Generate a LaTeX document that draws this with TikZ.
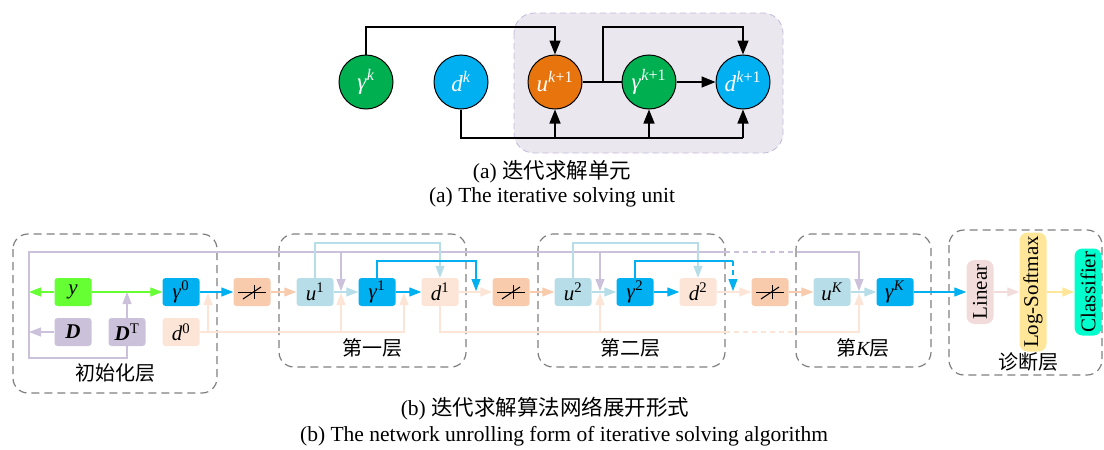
\documentclass[tikz,border=0pt]{standalone}
\usepackage{fontspec}
\setmainfont{Liberation Serif}
\newfontfamily\cjk{Noto Sans CJK SC}
\usetikzlibrary{arrows.meta, calc}

\definecolor{cgreen}{HTML}{00B050}
\definecolor{cblue}{HTML}{00B0F0}
\definecolor{corange}{HTML}{E8740E}
\definecolor{bgfill}{HTML}{EAE7EF}
\definecolor{bgline}{HTML}{C3B8DA}
\definecolor{ygreen}{HTML}{66FF33}
\definecolor{dpurp}{HTML}{CCC1DA}
\definecolor{dpeach}{HTML}{FCE4D6}
\definecolor{swor}{HTML}{F8CBAD}
\definecolor{ublue}{HTML}{B7DEE8}
\definecolor{linpink}{HTML}{F2DCDB}
\definecolor{lsmyel}{HTML}{FFE699}
\definecolor{clsgrn}{HTML}{00FFCC}
\definecolor{boxgray}{HTML}{7F7F7F}

\begin{document}
\begin{tikzpicture}[x=1pt, y=-1pt,
  unit/.style={circle, draw=black, line width=1pt, minimum size=54pt, inner sep=0pt, text=white, font=\fontsize{23}{23}\selectfont},
  blk/.style={rounded corners=3pt, minimum width=37pt, minimum height=28pt, inner sep=0pt, font=\fontsize{21}{21}\selectfont},
  vblk/.style={rounded corners=8pt, minimum height=27pt, inner sep=0pt, rotate=90, font=\fontsize{21}{21}\selectfont},
  aarr/.style={-{Triangle[length=14pt,width=11pt]}, line width=1.5pt},
  arr/.style={-{Triangle[length=12pt,width=9pt]}, line width=1.2pt},
  dsh/.style={dash pattern=on 5pt off 4pt},
  stagebox/.style={draw=boxgray, dash pattern=on 8pt off 5pt, rounded corners=15pt, line width=1.2pt},
  captxt/.style={font=\fontsize{21.5}{21.5}\selectfont, inner sep=0pt},
  lab/.style={font=\fontsize{20}{20}\selectfont\cjk, inner sep=0pt}]
\useasboundingbox (0,0) rectangle (1104,450);

% Iterative solving unit
\draw[draw=bgline, fill=bgfill, dash pattern=on 6pt off 4pt, line width=0.8pt, rounded corners=20pt] (514,13) rectangle (783,153);
\node[unit, fill=cgreen] (gk) at (366,82) {\textit{γ}\textsuperscript{\textit{k}}};
\node[unit, fill=cblue] (dk) at (461,82) {\textit{d}\textsuperscript{\textit{k}}};
\node[unit, fill=corange] (uk1) at (555,82) {\textit{u}\textsuperscript{\textit{k}+1}};
\node[unit, fill=cgreen] (gk1) at (649,82) {\textit{γ}\textsuperscript{\textit{k}+1}};
\node[unit, fill=cblue] (dk1) at (743,82) {\textit{d}\textsuperscript{\textit{k}+1}};
\coordinate (atop) at (0,27);
\coordinate (abot) at (0,138);
\coordinate (abr) at (603,82);
\draw[aarr] (gk.north) -- (gk.north |- atop) -| (uk1.north);
\draw[line width=1.5pt] (uk1.east) -- (gk1.west);
\draw[aarr] (gk1) -- (dk1);
\draw[aarr] (abr) -- (abr |- atop) -| (dk1.north);
\draw[line width=1.5pt] (dk.south) -- (dk.south |- abot) -- (dk1.south |- abot);
\foreach \n in {uk1, gk1, dk1}
   \draw[aarr] (\n.south |- abot) -- (\n.south);

\node[captxt] (capa1) at (552,172) {(a) {\cjk 迭代求解单元}};
\node[captxt] (capa2) at (552,197) {(a) The iterative solving unit};

% Stage frames
\foreach \xa/\ya/\xb/\yb in {13/234/217/393, 279/234/466/367, 538/234/725/367, 796/234/931/367, 949/230/1102/375}
   \draw[stagebox] (\xa,\ya) rectangle (\xb,\yb);
\node[lab] (linit) at (115,373) {初始化层};
\node[lab] (lone) at (372,348) {第一层};
\node[lab] (ltwo) at (630,348) {第二层};
\node[lab] (lkk) at (863,348) {第{\rmfamily\itshape K}层};
\node[lab] (ldiag) at (1028,362) {诊断层};

% Initialization layer
\node[blk, fill=ygreen] (ny) at (73,292) {\textit{y}};
\node[blk, fill=dpurp] (nD) at (73,332) {\textbf{\textit{D}}};
\node[blk, fill=dpurp] (nDT) at (127,332) {\textbf{\textit{D}}\textsuperscript{T}};
\node[blk, fill=cblue] (g0) at (181,292) {\textit{γ}\textsuperscript{0}};
\node[blk, fill=dpeach] (d0) at (181,332) {\textit{d}\textsuperscript{0}};

% Unrolled layers
\foreach \i/\x in {1/315, 2/573} {
   \node[blk, fill=ublue] (u\i) at (\x,292) {\textit{u}\textsuperscript{\i}};
   \node[blk, fill=cblue] (g\i) at (\x+62,292) {\textit{γ}\textsuperscript{\i}};
   \node[blk, fill=dpeach] (d\i) at (\x+125,292) {\textit{d}\textsuperscript{\i}};
}
\node[blk, fill=ublue] (uK) at (832,292) {\textit{u}\textsuperscript{\textit{K}}};
\node[blk, fill=cblue] (gK) at (895,292) {\textit{γ}\textsuperscript{\textit{K}}};

% Switches
\foreach \s/\x in {sw1/252, sw2/511, sw3/770} {
   \node[blk, fill=swor] (\s) at (\x,292) {};
   \draw[line width=1pt] ([xshift=-14pt]\s.center) -- ([xshift=14pt]\s.center);
   \draw[line width=1pt] ([shift={(-9pt,-7pt)}]\s.center) -- ([shift={(9pt,5pt)}]\s.center);
   \draw[line width=1pt] ([shift={(2pt,-7pt)}]\s.center) -- ([shift={(2pt,7pt)}]\s.center);
}

% Diagnosis layer
\node[vblk, fill=linpink, minimum width=64pt] (lin) at (980,292) {Linear};
\node[vblk, fill=lsmyel, minimum width=119pt] (lsm) at (1033,292) {Log-Softmax};
\node[vblk, fill=clsgrn, minimum width=87pt] (cls) at (1088,292) {Classifier};

% Junctions
\coordinate (lx) at (29,292);
\coordinate (pt) at (0,252);
\coordinate (pb) at (0,358);
\coordinate (ub) at (0,243);
\coordinate (gb) at (0,261);
\coordinate (j0) at (208,292);
\coordinate (j1) at (341,292);
\coordinate (e1) at (404,292);
\coordinate (m1) at (476,292);
\coordinate (j2) at (600,292);
\coordinate (m2) at (733,292);
\coordinate (jK) at (859,292);
\coordinate (pd1) at (725,0);
\coordinate (pd2) at (797,0);

% Main row
\draw[arr, ygreen] (ny) -- (g0);
\draw[arr, ygreen] (ny.west) -- (ny.west -| lx);
\draw[arr, dpurp] (nD.west) -- (nD.west -| lx);
\draw[arr, dpurp] (nDT.north) -- (nDT.north |- ny);
\draw[arr, cblue] (g0) -- (sw1);
\draw[arr, swor] (sw1) -- (u1);
\draw[arr, ublue] (u1) -- (g1);
\draw[arr, cblue] (g1) -- (d1);
\draw[arr, dpeach] (d1) -- (sw2);
\draw[arr, swor] (sw2) -- (u2);
\draw[arr, ublue] (u2) -- (g2);
\draw[arr, cblue] (g2) -- (d2);
\draw[arr, dpeach] (d2) -- (sw3);
\draw[arr, swor] (sw3) -- (uK);
\draw[arr, ublue] (uK) -- (gK);
\draw[arr, cblue] (gK) -- (lin);
\draw[arr, linpink] (lin) -- (lsm);
\draw[arr, lsmyel] (lsm) -- (cls);

% Feedback of D and y
\draw[dpurp, line width=1.2pt] (nDT.south) -- (nDT.south |- pb) -| (lx |- pt) -- (pd1 |- pt);
\draw[dpurp, line width=1.2pt, dsh] (pd1 |- pt) -- (pd2 |- pt);
\draw[arr, dpurp] (pd2 |- pt) -| ([yshift=1pt]jK);
\foreach \j in {j1, j2}
   \draw[arr, dpurp] (\j |- pt) -- ([yshift=1pt]\j);

% d paths
\draw[arr, dpeach] (d0.east) -| ([yshift=-1pt]e1);
\foreach \j in {j0, j1}
   \draw[arr, dpeach] (\j |- d0) -- ([yshift=-1pt]\j);
\draw[dpeach, line width=1.2pt] (d1.south) |- (pd1 |- d0);
\draw[dpeach, line width=1.2pt, dsh] (pd1 |- d0) -- (pd2 |- d0);
\draw[arr, dpeach] (pd2 |- d0) -| ([yshift=-1pt]jK);
\draw[arr, dpeach] (j2 |- d0) -- ([yshift=-1pt]j2);

% u and gamma skips
\foreach \i in {1, 2}
   \draw[arr, ublue] (u\i.north) -- (u\i.north |- ub) -| (d\i.north);
\draw[arr, cblue] (g1.north) -- (g1.north |- gb) -| ([yshift=1pt]m1);
\draw[cblue, line width=1.2pt] (g2.north) -- (g2.north |- gb) -- (m2 |- gb);
\draw[arr, cblue, dsh] (m2 |- gb) -- ([yshift=1pt]m2);

\node[captxt] (capb1) at (545,409) {(b) {\cjk 迭代求解算法网络展开形式}};
\node[captxt] (capb2) at (564,436) {(b) The network unrolling form of iterative solving algorithm};
\end{tikzpicture}
\end{document}
